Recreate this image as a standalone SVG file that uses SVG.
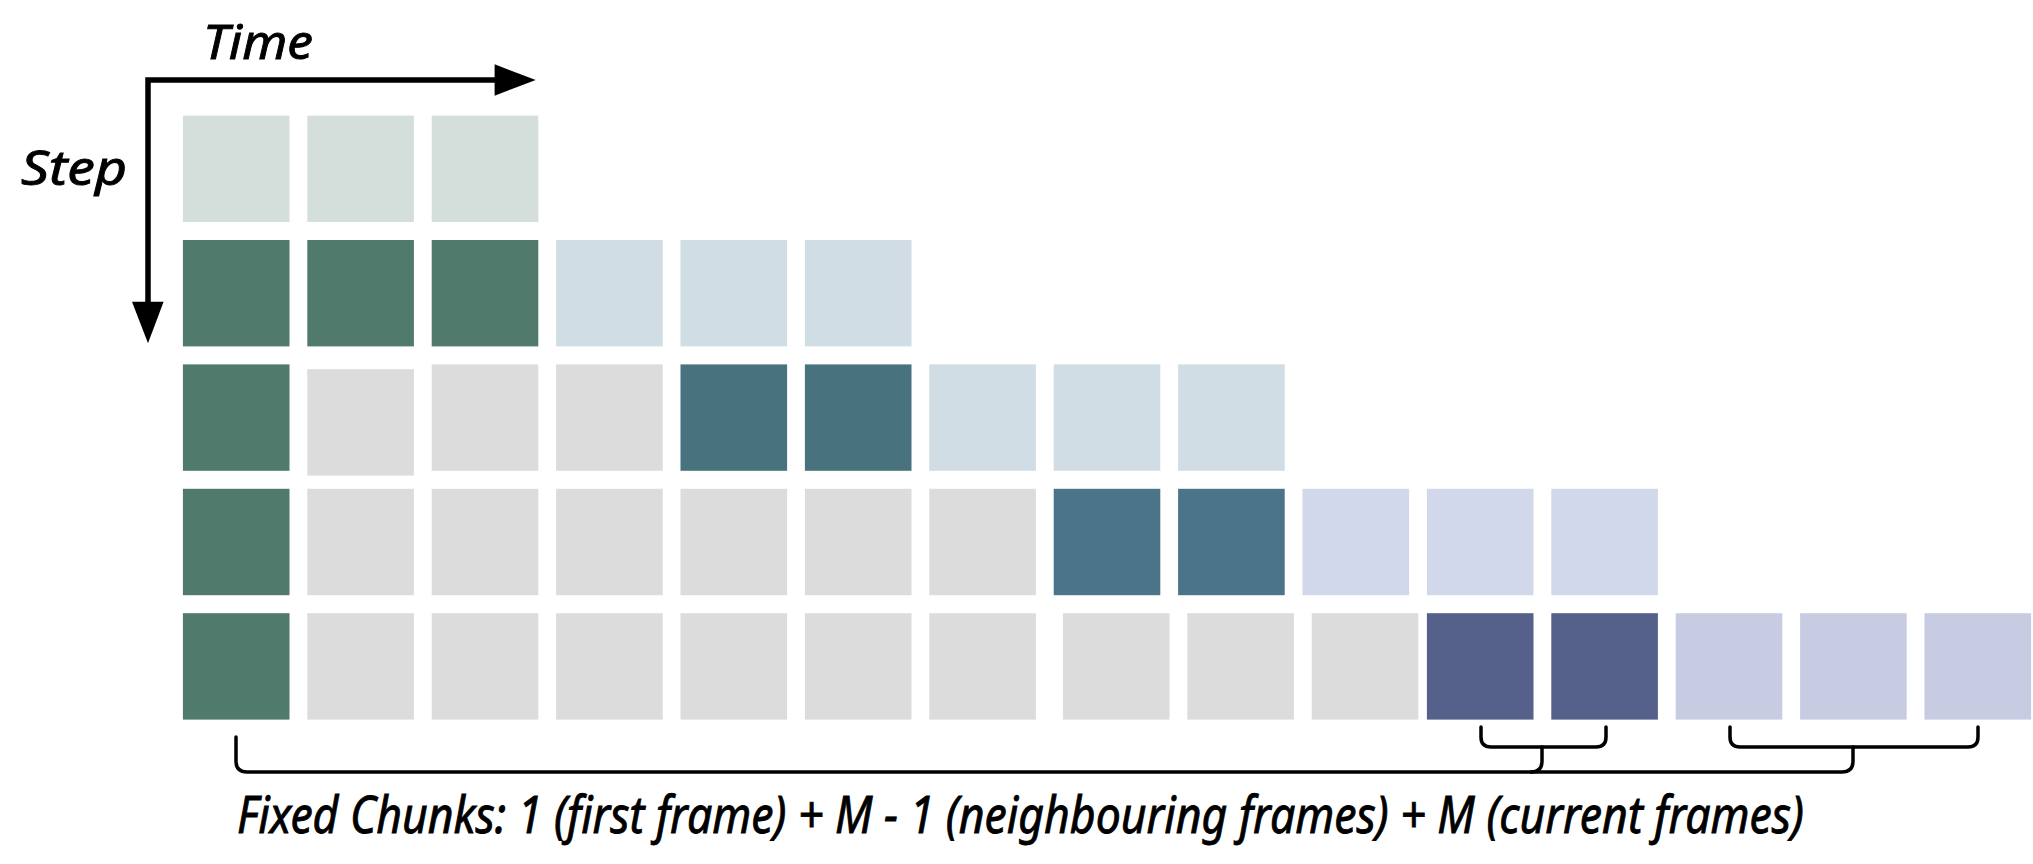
<svg xmlns="http://www.w3.org/2000/svg" width="2033" height="864" viewBox="0 0 2033 864">
<style>
.t{font-family:"Noto Sans","Liberation Sans",sans-serif;font-style:italic;fill:#000;stroke:#000;stroke-width:0.9}
.lg{fill:#d4dfdb}.dg{fill:#4f7a6c}.lb{fill:#d0dde4}.gy{fill:#dcdcdc}.dt{fill:#48737e}.sb{fill:#4b7389}.lv{fill:#d2d8ec}.nv{fill:#55608b}.lv2{fill:#c8cce2}
.ln{fill:none;stroke:#000;stroke-width:3.5;stroke-linecap:round;stroke-linejoin:round}
.ax{fill:none;stroke:#000;stroke-width:5.5}
</style>
<rect width="2033" height="864" fill="#fff"/>
<g id="axes">
<path class="ax" d="M148,80 H497 M148,77.3 V304"/>
<polygon points="494.6,64.3 535.7,80 494.6,95.7"/>
<polygon points="132,301.7 163.6,301.7 148,343.3"/>
<text class="t" x="203" y="59" font-size="48" textLength="110" lengthAdjust="spacingAndGlyphs">Time</text>
<text class="t" x="21" y="185" font-size="47" textLength="106" lengthAdjust="spacingAndGlyphs">Step</text>
</g>
<g id="cells">
<g id="r1c1"><rect class="lg" x="182.9" y="115.6" width="106.6" height="106.4"/></g>
<g id="r1c2"><rect class="lg" x="307.3" y="115.6" width="106.6" height="106.4"/></g>
<g id="r1c3"><rect class="lg" x="431.7" y="115.6" width="106.6" height="106.4"/></g>

<g id="r2c1"><rect class="dg" x="182.9" y="240" width="106.6" height="106.4"/></g>
<g id="r2c2"><rect class="dg" x="307.3" y="240" width="106.6" height="106.4"/></g>
<g id="r2c3"><rect class="dg" x="431.7" y="240" width="106.6" height="106.4"/></g>
<g id="r2c4"><rect class="lb" x="556.1" y="240" width="106.6" height="106.4"/></g>
<g id="r2c5"><rect class="lb" x="680.5" y="240" width="106.6" height="106.4"/></g>
<g id="r2c6"><rect class="lb" x="804.9" y="240" width="106.6" height="106.4"/></g>

<g id="r3c1"><rect class="dg" x="182.9" y="364.4" width="106.6" height="106.4"/></g>
<g id="r3c2"><rect class="gy" x="307.3" y="369.2" width="106.6" height="106.4"/></g>
<g id="r3c3"><rect class="gy" x="431.7" y="364.4" width="106.6" height="106.4"/></g>
<g id="r3c4"><rect class="gy" x="556.1" y="364.4" width="106.6" height="106.4"/></g>
<g id="r3c5"><rect class="dt" x="680.5" y="364.4" width="106.6" height="106.4"/></g>
<g id="r3c6"><rect class="dt" x="804.9" y="364.4" width="106.6" height="106.4"/></g>
<g id="r3c7"><rect class="lb" x="929.3" y="364.4" width="106.6" height="106.4"/></g>
<g id="r3c8"><rect class="lb" x="1053.7" y="364.4" width="106.6" height="106.4"/></g>
<g id="r3c9"><rect class="lb" x="1178.1" y="364.4" width="106.6" height="106.4"/></g>

<g id="r4c1"><rect class="dg" x="182.9" y="488.8" width="106.6" height="106.4"/></g>
<g id="r4c2"><rect class="gy" x="307.3" y="488.8" width="106.6" height="106.4"/></g>
<g id="r4c3"><rect class="gy" x="431.7" y="488.8" width="106.6" height="106.4"/></g>
<g id="r4c4"><rect class="gy" x="556.1" y="488.8" width="106.6" height="106.4"/></g>
<g id="r4c5"><rect class="gy" x="680.5" y="488.8" width="106.6" height="106.4"/></g>
<g id="r4c6"><rect class="gy" x="804.9" y="488.8" width="106.6" height="106.4"/></g>
<g id="r4c7"><rect class="gy" x="929.3" y="488.8" width="106.6" height="106.4"/></g>
<g id="r4c8"><rect class="sb" x="1053.7" y="488.8" width="106.6" height="106.4"/></g>
<g id="r4c9"><rect class="sb" x="1178.1" y="488.8" width="106.6" height="106.4"/></g>
<g id="r4c10"><rect class="lv" x="1302.5" y="488.8" width="106.6" height="106.4"/></g>
<g id="r4c11"><rect class="lv" x="1426.9" y="488.8" width="106.6" height="106.4"/></g>
<g id="r4c12"><rect class="lv" x="1551.3" y="488.8" width="106.6" height="106.4"/></g>

<g id="r5c1"><rect class="dg" x="182.9" y="613.2" width="106.6" height="106.4"/></g>
<g id="r5c2"><rect class="gy" x="307.3" y="613.2" width="106.6" height="106.4"/></g>
<g id="r5c3"><rect class="gy" x="431.7" y="613.2" width="106.6" height="106.4"/></g>
<g id="r5c4"><rect class="gy" x="556.1" y="613.2" width="106.6" height="106.4"/></g>
<g id="r5c5"><rect class="gy" x="680.5" y="613.2" width="106.6" height="106.4"/></g>
<g id="r5c6"><rect class="gy" x="804.9" y="613.2" width="106.6" height="106.4"/></g>
<g id="r5c7"><rect class="gy" x="929.3" y="613.2" width="106.6" height="106.4"/></g>
<g id="r5c8"><rect class="gy" x="1062.9" y="613.2" width="106.6" height="106.4"/></g>
<g id="r5c9"><rect class="gy" x="1187.3" y="613.2" width="106.6" height="106.4"/></g>
<g id="r5c10"><rect class="gy" x="1311.7" y="613.2" width="106.6" height="106.4"/></g>
<g id="r5c11"><rect class="nv" x="1426.9" y="613.2" width="106.6" height="106.4"/></g>
<g id="r5c12"><rect class="nv" x="1551.3" y="613.2" width="106.6" height="106.4"/></g>
<g id="r5c13"><rect class="lv2" x="1675.7" y="613.2" width="106.6" height="106.4"/></g>
<g id="r5c14"><rect class="lv2" x="1800.1" y="613.2" width="106.6" height="106.4"/></g>
<g id="r5c15"><rect class="lv2" x="1924.5" y="613.2" width="106.6" height="106.4"/></g>
</g>
<g id="connectors">
<path class="ln" d="M1481,727 V737 Q1481,747 1491,747 H1596 Q1606,747 1606,737 V727"/>
<path class="ln" d="M1730,727 V737 Q1730,747 1740,747 H1968 Q1978,747 1978,737 V727"/>
<path class="ln" d="M236,737 V761 Q236,772 247,772 H1842 Q1853,772 1853,761 V747"/>
<path class="ln" d="M1542,747 V761 Q1542,772 1531,772"/>
</g>
<g id="caption">
<text class="t" x="237" y="833" font-size="51" textLength="1567" lengthAdjust="spacingAndGlyphs">Fixed Chunks: 1 (first frame) + M - 1 (neighbouring frames) + M (current frames)</text>
</g>
</svg>
